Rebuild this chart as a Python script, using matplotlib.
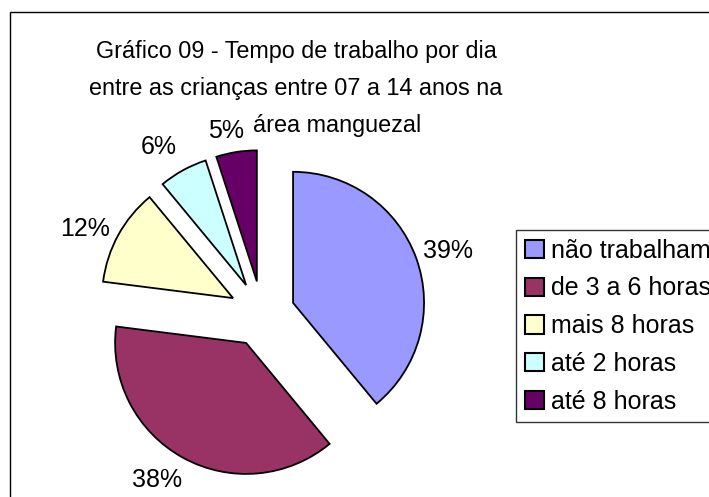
import numpy as np
import matplotlib
matplotlib.use('Agg')
import matplotlib.pyplot as plt
from matplotlib.patches import Rectangle

plt.rcParams['font.family'] = ['Liberation Sans', 'DejaVu Sans']

# data
categories = ['não trabalham', 'de 3 a 6 horas', 'mais 8 horas', 'até 2 horas', 'até 8 horas']
percent = [39, 38, 12, 6, 5]
colors = ['#9999FF', '#993366', '#FFFFCC', '#CCFFFF', '#660066']
title_lines = ['Gráfico 09 - Tempo de trabalho por dia',
               'entre as crianças entre 07 a 14 anos na',
               'área manguezal']

W, H = 709, 497
fig = plt.figure(figsize=(W / 100, H / 100), dpi=100)

# axes in pixel units so the pie sits where the original one does
ax = fig.add_axes([0, 0, 1, 1])
ax.set_xlim(0, W)
ax.set_ylim(0, H)
ax.set_aspect('equal')
ax.axis('off')

# outer chart border (runs off the right and bottom edge)
fig.patches.append(Rectangle((9.5 / W, -0.1), 1.2, 1.1 - 12 / H,
                             transform=fig.transFigure, fill=False,
                             edgecolor='black', linewidth=1.0))

radius = 131
cx, cy = 262, H - 314
wedges, texts, autotexts = ax.pie(
    percent, colors=colors, startangle=90, counterclock=False,
    explode=[33] * len(percent), radius=radius, center=(cx, cy),
    autopct='%1.0f%%', pctdistance=1.245,
    wedgeprops=dict(edgecolor='black', linewidth=1.3),
    textprops=dict(fontsize=18, color='black'))
ax.set_xlim(0, W)
ax.set_ylim(0, H)

# small nudges so the labels sit like Excel's (angle shift in deg, radial scale)
nudge_angle = [-1, -3.5, 3, 3, 2]
nudge_scale = [1.0, 1.0, 1.0, 1.0, 0.95]
for t, da, s in zip(autotexts, nudge_angle, nudge_scale):
    x, y = t.get_position()
    r = np.hypot(x - cx, y - cy) * s
    a = np.arctan2(y - cy, x - cx) + np.radians(da)
    t.set_position((cx + r * np.cos(a), cy + r * np.sin(a)))

# title: first two lines centred, last line sits right of the 5% label
baselines = [58, 95, 132]
fig.text(296 / W, 1 - baselines[0] / H, title_lines[0], ha='center', va='baseline', fontsize=16.8)
fig.text(296 / W, 1 - baselines[1] / H, title_lines[1], ha='center', va='baseline', fontsize=16.8)
fig.text(253 / W, 1 - baselines[2] / H, title_lines[2], ha='left', va='baseline', fontsize=16.8)

leg = fig.legend(wedges, categories, loc='upper left',
                 bbox_to_anchor=(516 / W, 1 - 230 / H), borderaxespad=0,
                 fontsize=18, frameon=True, fancybox=False,
                 handlelength=0.75, handleheight=0.75, handletextpad=0.3,
                 labelspacing=0.55, borderpad=0.35)
leg.get_frame().set_edgecolor('black')
leg.get_frame().set_linewidth(1.0)
for h in leg.legend_handles:
    h.set_linewidth(1.5)

fig.savefig('out.png', dpi=100)
